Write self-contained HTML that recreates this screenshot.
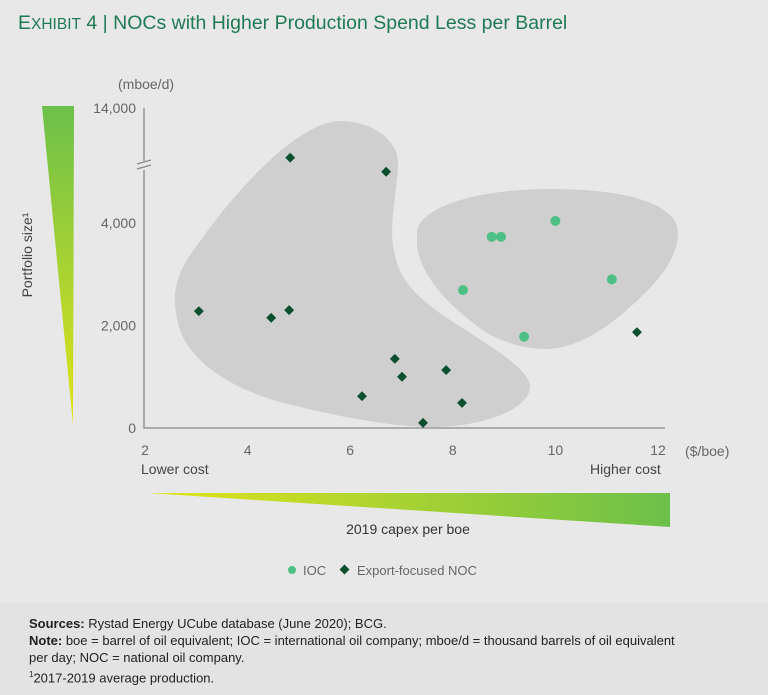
<!DOCTYPE html>
<html><head><meta charset="utf-8"><style>
body{margin:0;width:768px;height:695px;background:#e8e8e9;font-family:"Liberation Sans",sans-serif;overflow:hidden;position:relative}
svg{position:absolute;left:0;top:0}
.foot{position:absolute;left:0;top:603px;width:768px;height:92px;background:#e3e3e4}
.ft{position:absolute;left:29px;font-size:13px;color:#222;line-height:17px;top:615px;width:740px;white-space:nowrap;letter-spacing:0px}
</style></head><body>
<div class="foot"></div>
<div class="ft"><b>Sources:</b> Rystad Energy UCube database (June 2020); BCG.<br><b>Note:</b> boe = barrel of oil equivalent; IOC = international oil company; mboe/d = thousand barrels of oil equivalent<br>per day; NOC = national oil company.<br><sup style="font-size:8px">1</sup>2017-2019 average production.</div>
<svg id="chart" width="768" height="600">
<defs>
<linearGradient id="gv" x1="0" y1="0" x2="0" y2="1"><stop offset="0" stop-color="#6cc04a"/><stop offset="1" stop-color="#e2e41a"/></linearGradient>
<linearGradient id="gh" x1="0" y1="0" x2="1" y2="0"><stop offset="0" stop-color="#e2e41a"/><stop offset="1" stop-color="#6cc04a"/></linearGradient>
</defs>
<text x="18" y="29" font-size="19.5" fill="#1f7a55">E<tspan font-size="15.5">XHIBIT</tspan> 4 | NOCs with Higher Production Spend Less per Barrel</text>
<polygon points="42,106 74,106 73,425" fill="url(#gv)"/>
<polygon points="148,493 670,493 670,527" fill="url(#gh)"/>
<text transform="translate(32,255) rotate(-90)" text-anchor="middle" font-size="14" fill="#444">Portfolio size¹</text>
<text x="118" y="89" font-size="14" fill="#666">(mboe/d)</text>
<text x="685" y="456" font-size="14" fill="#666">($/boe)</text>
<text x="141" y="474" font-size="14" fill="#444">Lower cost</text>
<text x="590" y="474" font-size="14" fill="#444">Higher cost</text>
<text x="408" y="534" text-anchor="middle" font-size="14" fill="#333">2019 capex per boe</text>
<path d="M341,121 C372,121 398,140 398,163 C398,185 388,230 394,250 C398,272 405,290 450,320 C500,352 526,368 530,385 C532,410 480,427 434,427 C380,427 310,410 273,400 C225,385 191,360 180,330 C168,290 178,270 201,240 C240,185 300,121 341,121 Z" fill="#cfcfcf"/>
<path d="M417,233 C417,210 470,189 551,189 C630,189 678,205 678,233 C678,262 650,290 630,307 C600,335 570,349 546,349 C520,349 500,340 487,333 C460,315 420,280 417,245 Z" fill="#cfcfcf"/>
<g id="axes"></g><g id="marks"></g>
<circle cx="292" cy="570" r="4" fill="#4fc085"/>
<text x="303" y="575" font-size="13" fill="#666">IOC</text>
<rect x="341" y="566" width="7" height="7" transform="rotate(45 344.5 569.5)" fill="#0a4f2e"/>
<text x="357" y="575" font-size="13" fill="#666">Export-focused NOC</text>
</svg>
<script>
const xTicks=[2,4,6,8,10,12];
const yTicks=[0,2000,4000];
const yTopLabel="14,000";
const iocX=[10.0,8.76,8.94,8.2,11.1,9.39];
const iocY=[4040,3730,3730,2690,2900,1780];
const nocX=[4.83,6.7,3.05,4.46,4.81,6.87,7.01,7.87,6.23,8.18,7.42,11.59];
const nocY=[6500,5000,2280,2150,2300,1350,1000,1130,620,490,100,1870];
const NS='http://www.w3.org/2000/svg';
function sx(v){return 145+(v-2)*51.3;}
function sy(v){return v<=5100?428-v*0.05125:167-(v-5100)*(59/8900);}
const ax=document.getElementById('axes'),mk=document.getElementById('marks');
function el(t,a,p){const e=document.createElementNS(NS,t);for(const k in a)e.setAttribute(k,a[k]);p.appendChild(e);return e;}
let l=el('path',{d:'M144,108 V161 M144,170 V428 H665',stroke:'#888','stroke-width':1.3,fill:'none'},ax);


let b=el('path',{d:'M137,164 L151,160 M137,169 L151,165',stroke:'#888','stroke-width':1.2},ax);


xTicks.forEach(v=>{const t=el('text',{x:sx(v),y:455,'text-anchor':'middle','font-size':14,fill:'#666'},ax);t.textContent=v;

});
yTicks.forEach(v=>{const t=el('text',{x:136,y:sy(v)+5,'text-anchor':'end','font-size':14,fill:'#666'},ax);t.textContent=v.toLocaleString('en-US');

});
const tt=el('text',{x:136,y:113,'text-anchor':'end','font-size':14,fill:'#666'},ax);tt.textContent=yTopLabel;


iocX.forEach((v,i)=>{const c=el('circle',{cx:sx(v),cy:sy(iocY[i]),r:5,fill:'#4fc085'},mk);

});
nocX.forEach((v,i)=>{const x=sx(v),y=sy(nocY[i]);const d=el('rect',{x:x-3.5,y:y-3.5,width:7,height:7,transform:`rotate(45 ${x} ${y})`,fill:'#0a4f2e'},mk);

});
</script>
</body></html>
